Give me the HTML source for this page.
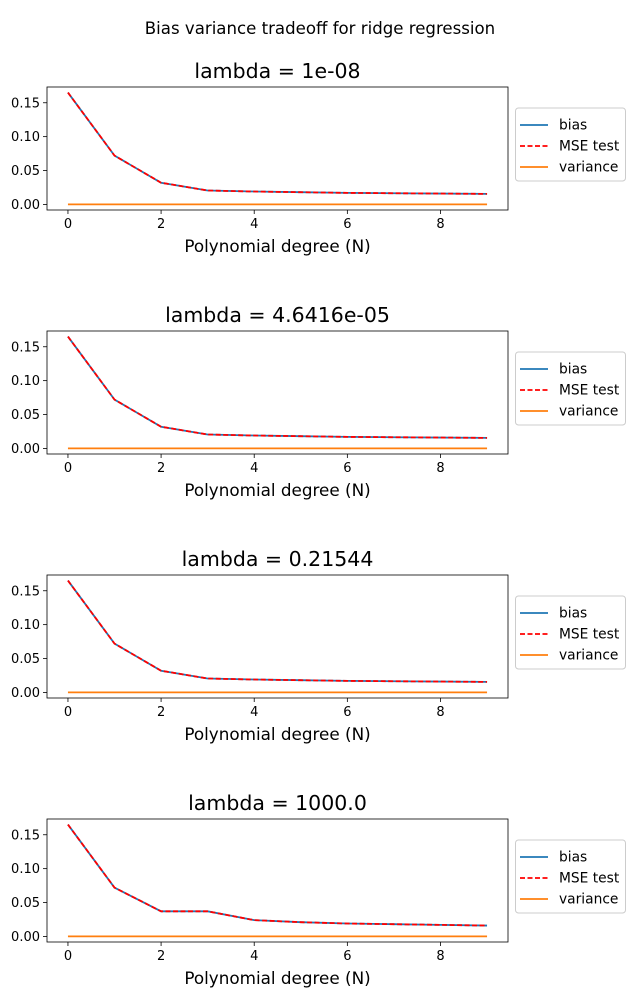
<!DOCTYPE html>
<html><head><meta charset="utf-8">
<style>
body{margin:0;background:#fff;}
svg{display:block;font-family:"DejaVu Sans","Liberation Sans",sans-serif;}
</style></head>
<body>
<svg id="fig" width="640" height="1008" viewBox="0 0 640 1008" xmlns="http://www.w3.org/2000/svg">
<text x="320" y="34" text-anchor="middle" font-size="16.6">Bias variance tradeoff for ridge regression</text>
</svg>
<script>
const titles = ["lambda = 1e-08","lambda = 4.6416e-05","lambda = 0.21544","lambda = 1000.0"];
const degrees = [0,1,2,3,4,5,6,7,8,9];
const bias1 = [0.165,0.072,0.032,0.0205,0.019,0.018,0.017,0.0165,0.016,0.0155];
const bias2 = [0.165,0.072,0.032,0.0205,0.019,0.018,0.017,0.0165,0.016,0.0155];
const bias3 = [0.165,0.072,0.032,0.0205,0.019,0.018,0.017,0.0165,0.016,0.0155];
const bias4 = [0.165,0.072,0.037,0.037,0.024,0.021,0.019,0.018,0.017,0.016];
const mse1 = bias1, mse2 = bias2, mse3 = bias3, mse4 = bias4;
const variance = [0,0,0,0,0,0,0,0,0,0];
const xTicks = [0,2,4,6,8];
const yTicks = [0,0.05,0.10,0.15];
const yTickLabels = ["0.00","0.05","0.10","0.15"];
const legendLabels = ["bias","MSE test","variance"];

const NS="http://www.w3.org/2000/svg";
const fig=document.getElementById('fig');
function mk(tag,attrs,parent){const e=document.createElementNS(NS,tag);for(const k in attrs)e.setAttribute(k,attrs[k]);(parent||fig).appendChild(e);return e;}
const biasSets=[bias1,bias2,bias3,bias4], mseSets=[mse1,mse2,mse3,mse4];
const L=47,R=508,H=123;
for(let p=0;p<4;p++){
  const top=87+p*244, bot=top+H;
  const g=mk('g',{});
  
  
  const allv=biasSets[p].concat(mseSets[p],variance);
  const vmin=Math.min(...allv), vmax=Math.max(...allv), pad=(vmax-vmin)*0.05;
  const y0=vmin-pad,y1=vmax+pad;
  const xs=v=>L+(v+0.45)/9.9*(R-L);
  const ys=v=>bot-(v-y0)/(y1-y0)*H;
  const t=mk('text',{x:(L+R)/2,y:top-9,'text-anchor':'middle','font-size':'20.5'},g);t.textContent=titles[p];
  
  
  for(let i=0;i<xTicks.length;i++){const x=xs(xTicks[i]);
    mk('line',{x1:x,x2:x,y1:bot,y2:bot+4,stroke:'#000','stroke-width':0.8},g);
    const tt=mk('text',{x:x,y:bot+18,'text-anchor':'middle','font-size':'13'},g);tt.textContent=xTicks[i];
    
    }
  for(let i=0;i<yTicks.length;i++){const y=ys(yTicks[i]);
    mk('line',{x1:L-4,x2:L,y1:y,y2:y,stroke:'#000','stroke-width':0.8},g);
    const tt=mk('text',{x:L-7,y:y+4.5,'text-anchor':'end','font-size':'13'},g);tt.textContent=yTickLabels[i];
    
    }
  const xl=mk('text',{x:(L+R)/2,y:bot+42,'text-anchor':'middle','font-size':'16.8'},g);xl.textContent='Polynomial degree (N)';
  
  
  const line=(arr,col,dash,name)=>{const pl=mk('polyline',{points:arr.map((v,i)=>xs(degrees[i])+','+ys(v)).join(' '),fill:'none',stroke:col,'stroke-width':1.8},g);
    if(dash)pl.setAttribute('stroke-dasharray',dash);
    
    };
  line(biasSets[p],'#1f77b4',null,'bias-line');
  line(mseSets[p],'#ff0000','5,2.5','mse-test-line');
  line(variance,'#ff7f0e',null,'variance-line');
  mk('rect',{x:L,y:top,width:R-L,height:H,fill:'none',stroke:'#000','stroke-width':0.8},g);
  const lg=mk('g',{},g);
  
  
  const ly=top+21;
  mk('rect',{x:515.5,y:ly,width:110,height:73,rx:3,fill:'#fff',stroke:'#ccc','stroke-width':1},lg);
  const cols=['#1f77b4','#ff0000','#ff7f0e'],d=[null,'5,2.5',null];
  for(let i=0;i<3;i++){const yy=ly+17+i*21;
    const ln=mk('line',{x1:520,x2:548,y1:yy,y2:yy,stroke:cols[i],'stroke-width':1.8},lg);
    if(d[i])ln.setAttribute('stroke-dasharray',d[i]);
    const lt=mk('text',{x:559,y:yy+4.5,'font-size':'13.8'},lg);lt.textContent=legendLabels[i];
    
    }
}
</script>
</body></html>
